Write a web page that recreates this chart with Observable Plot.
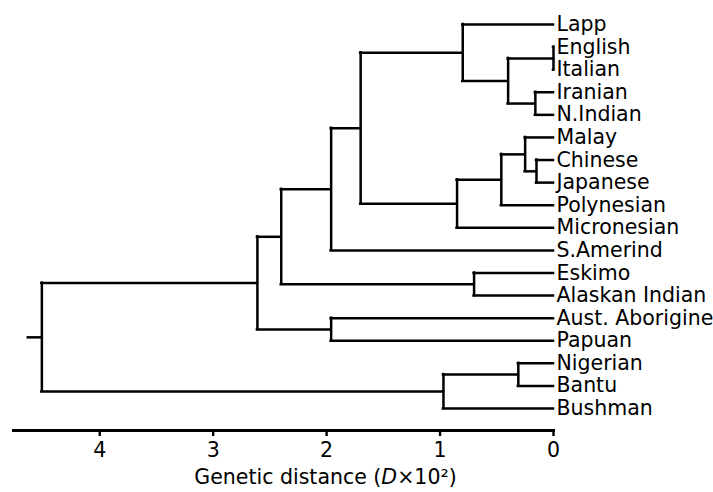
<!DOCTYPE html>
<html>
<head>
<meta charset="utf-8">
<script src="https://cdn.jsdelivr.net/npm/d3@7"></script>
<script src="https://cdn.jsdelivr.net/npm/@observablehq/plot@0.6"></script>
<style>
  html, body { margin: 0; padding: 0; background: white; }
</style>
</head>
<body>
<div id="chart"></div>
<script>
// Leaves, top to bottom
const leaves = ["Lapp", "English", "Italian", "Iranian", "N.Indian", "Malay", "Chinese", "Japanese",
  "Polynesian", "Micronesian", "S.Amerind", "Eskimo", "Alaskan Indian", "Aust. Aborigine",
  "Papuan", "Nigerian", "Bantu", "Bushman"];
// Internal nodes (children listed before parents)
const nodeNames = ["EngIta", "IraInd", "Euro", "LappEuro", "ChiJap", "MalayEA", "PolyEA", "MicroPoly",
  "Eurasia", "Amerind", "EskAla", "NonAfrica1", "AusPap", "NonAfrica", "NigBan", "Africa", "Root"];
// Genetic distance (D x 10^2) at which each node joins
const nodeHeights = [0.0, 0.16, 0.40, 0.80, 0.15, 0.25, 0.46, 0.85,
  1.70, 1.96, 0.70, 2.40, 1.96, 2.61, 0.31, 0.97, 4.51];
const nodeChildren = [
  ["English", "Italian"], ["Iranian", "N.Indian"], ["EngIta", "IraInd"], ["Lapp", "Euro"],
  ["Chinese", "Japanese"], ["Malay", "ChiJap"], ["MalayEA", "Polynesian"], ["PolyEA", "Micronesian"],
  ["LappEuro", "MicroPoly"], ["Eurasia", "S.Amerind"], ["Eskimo", "Alaskan Indian"], ["Amerind", "EskAla"],
  ["Aust. Aborigine", "Papuan"], ["NonAfrica1", "AusPap"], ["Nigerian", "Bantu"], ["NigBan", "Bushman"],
  ["NonAfrica", "Africa"]];
const rootBranchEnd = 4.63;
const xTicks = [0, 1, 2, 3, 4];
const xMax = 4.76;
const axisTitle = "Genetic distance (D×10²)";

// Layout: leaves at index rows, internal nodes at the midpoint of their children
const pos = new Map();
const leafRows = leaves.map((name, i) => { const r = {name, h: 0, y: i}; pos.set(name, r); return r; });
nodeNames.forEach((name, i) => {
  const kids = nodeChildren[i].map(k => pos.get(k));
  pos.set(name, {name, h: nodeHeights[i], y: (kids[0].y + kids[kids.length - 1].y) / 2});
});
const horiz = [], vert = [];
nodeNames.forEach((name, i) => {
  const n = pos.get(name);
  const kids = nodeChildren[i].map(k => pos.get(k));
  vert.push({x: n.h, y1: kids[0].y, y2: kids[kids.length - 1].y});
  kids.forEach(k => horiz.push({x1: n.h, x2: k.h, y: k.y}));
});
const root = pos.get("Root");
horiz.push({x1: rootBranchEnd, x2: root.h, y: root.y});

const FS = 20.5;
const chart = Plot.plot({
  width: 713,
  height: 492,
  marginLeft: 13,
  marginRight: 160,
  marginTop: 24,
  marginBottom: 62,
  style: {fontFamily: "DejaVu Sans", fontSize: FS + "px", background: "white", color: "black", overflow: "visible"},
  x: {domain: [xMax, 0], axis: null},
  y: {domain: [0, leaves.length - 1], range: [24, 408], axis: null},
  marks: [
    Plot.frame({anchor: "bottom", strokeWidth: 3, stroke: "black"}),
    Plot.axisX({ticks: xTicks, tickFormat: d3.format("d"), tickSize: 6, tickPadding: 6, strokeWidth: 2.4,
      fontSize: FS, label: null, stroke: "black", fill: "black"}),
    Plot.ruleY(horiz, {y: "y", x1: "x1", x2: "x2", stroke: "black", strokeWidth: 2.5, strokeLinecap: "square"}),
    Plot.ruleX(vert, {x: "x", y1: "y1", y2: "y2", stroke: "black", strokeWidth: 2.5, strokeLinecap: "square"}),
    Plot.text(leafRows, {x: "h", y: "y", text: "name", textAnchor: "start", dx: 3, fontSize: FS, fill: "black"}),
    Plot.text([axisTitle], {frameAnchor: "bottom", lineAnchor: "middle", text: d => d, dx: 42, dy: 47, fontSize: FS, fill: "black"})
  ]
});
document.getElementById("chart").appendChild(chart);

// italic D in the axis title
chart.querySelectorAll("text").forEach(t => {
  if (t.textContent === axisTitle) {
    const parts = axisTitle.split("D");
    t.textContent = "";
    const ns = "http://www.w3.org/2000/svg";
    const a = document.createElementNS(ns, "tspan"); a.textContent = parts[0];
    const b = document.createElementNS(ns, "tspan"); b.textContent = "D"; b.setAttribute("font-style", "italic");
    const c = document.createElementNS(ns, "tspan"); c.textContent = parts[1];
    t.append(a, b, c);
  }
});
</script>
</body>
</html>
